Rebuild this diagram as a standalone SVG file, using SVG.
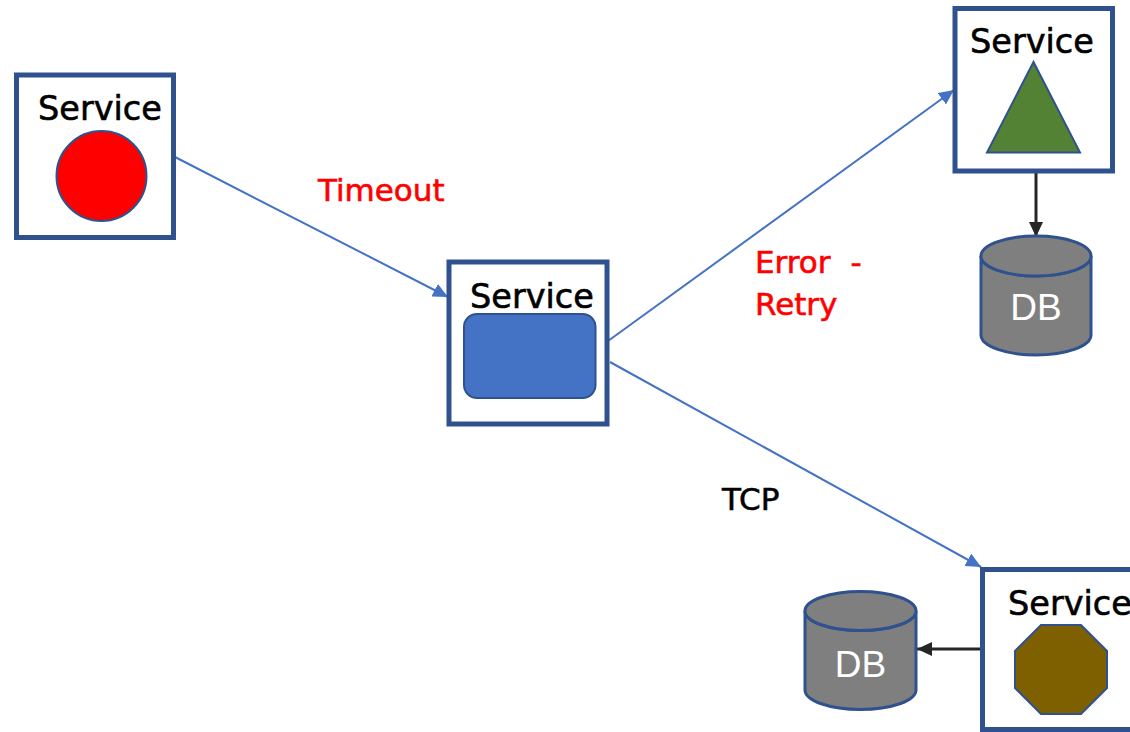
<svg xmlns="http://www.w3.org/2000/svg" width="1130" height="732" viewBox="0 0 1130 732">
<defs>
<style>
.box{fill:#fff;stroke:#2F528F;stroke-width:5}
.svc{font-family:"DejaVu Sans",sans-serif;font-size:33.5px;fill:#000;stroke:#000;stroke-width:0.6}
.lbl{font-family:"DejaVu Sans",sans-serif;font-size:31px;stroke-width:0.6}
.red{fill:#FF0000;stroke:#FF0000}
.blkt{fill:#000;stroke:#000}
.db{fill:#7F7F7F;stroke:#2F528F;stroke-width:3}
.dbt{font-family:"Liberation Sans",Arial,sans-serif;font-size:37px;fill:#fff;text-anchor:middle}
.conn{stroke:#4472C4;stroke-width:2;fill:none}
.blk{stroke:#262626;stroke-width:3;fill:none}
</style>
<marker id="ab" markerUnits="userSpaceOnUse" markerWidth="16" markerHeight="14" refX="15" refY="7" orient="auto">
<path d="M0,0 L15,7 L0,14 z" fill="#4472C4"/>
</marker>
<marker id="ak" markerUnits="userSpaceOnUse" markerWidth="16" markerHeight="14" refX="15" refY="7" orient="auto">
<path d="M0,0 L15,7 L0,14 z" fill="#262626"/>
</marker>
</defs>
<rect width="1130" height="732" fill="#fff"/>

<g id="connectors">
<line class="conn" x1="175" y1="157" x2="448" y2="297" marker-end="url(#ab)"/>
<line class="conn" x1="608" y1="341" x2="954" y2="90" marker-end="url(#ab)"/>
<line class="conn" x1="610" y1="362" x2="981" y2="567" marker-end="url(#ab)"/>
<line class="blk" x1="1036" y1="173" x2="1036" y2="237" marker-end="url(#ak)"/>
<line class="blk" x1="981" y1="649" x2="917" y2="649" marker-end="url(#ak)"/>
</g>

<g id="labels">
<text class="lbl red" x="318" y="201">Timeout</text>
<text class="lbl red" x="755" y="273" word-spacing="10">Error -</text>
<text class="lbl red" x="755" y="315">Retry</text>
<text class="lbl blkt" x="722" y="510">TCP</text>
</g>

<g id="service-left">
<rect class="box" x="16.5" y="75" width="157" height="162.5"/>
<text class="svc" x="38" y="120">Service</text>
<circle cx="101.5" cy="176" r="45" fill="#FF0000" stroke="#2F528F" stroke-width="2"/>
</g>

<g id="service-middle">
<rect class="box" x="449" y="262" width="158" height="162"/>
<text class="svc" x="470" y="308">Service</text>
<rect x="464" y="314" width="131.5" height="84" rx="13" fill="#4472C4" stroke="#2F528F" stroke-width="2"/>
</g>

<g id="service-top">
<rect class="box" x="955" y="8.5" width="157.5" height="162.5"/>
<text class="svc" x="970" y="53">Service</text>
<polygon points="1033.5,62 987,152.5 1080,152.5" fill="#548235" stroke="#2F528F" stroke-width="2"/>
</g>

<g id="service-bottom">
<rect class="box" x="982.5" y="569.5" width="158" height="160"/>
<text class="svc" x="1008" y="615">Service</text>
<polygon points="1041,625 1081,625 1107,651 1107,688 1081,714 1041,714 1015,688 1015,651" fill="#7F6000" stroke="#2F528F" stroke-width="2"/>
</g>

<g id="db-top">
<path class="db" d="M981,256 V335 A55,20 0 0 0 1091,335 V256 A55,20 0 0 1 981,256 Z"/>
<ellipse class="db" cx="1036" cy="256" rx="55" ry="20"/>
<text class="dbt" x="1036" y="320">DB</text>
</g>

<g id="db-bottom">
<path class="db" d="M805,611 V690 A55.5,19.5 0 0 0 916,690 V611 A55.5,19.5 0 0 1 805,611 Z"/>
<ellipse class="db" cx="860.5" cy="611" rx="55.5" ry="19.5"/>
<text class="dbt" x="860.5" y="677">DB</text>
</g>
</svg>
